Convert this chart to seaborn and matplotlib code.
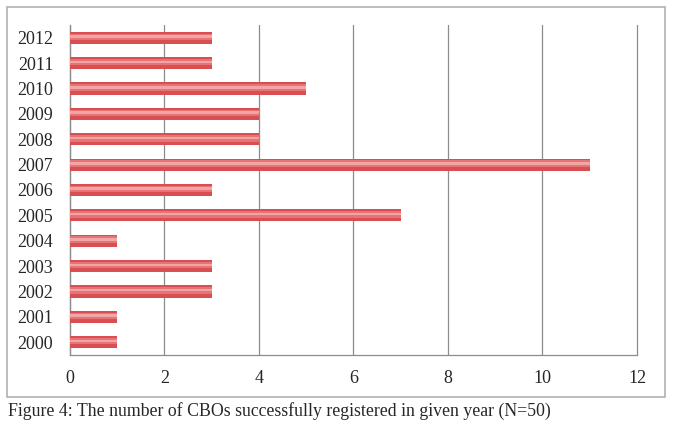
import matplotlib
matplotlib.use("Agg")
import matplotlib.pyplot as plt
import seaborn as sns
import pandas as pd
import numpy as np
from matplotlib.patches import Rectangle

years = ["2012", "2011", "2010", "2009", "2008", "2007", "2006",
         "2005", "2004", "2003", "2002", "2001", "2000"]
counts = [3, 3, 5, 4, 4, 11, 3, 7, 1, 3, 3, 1, 1]
x_ticks = [0, 2, 4, 6, 8, 10, 12]
caption = "Figure 4: The number of CBOs successfully registered in given year (N=50)"

df = pd.DataFrame({"year": years, "count": counts})

sns.set_style("white")
plt.rcParams["font.family"] = ["Liberation Serif", "DejaVu Serif"]

fig = plt.figure(figsize=(6.73, 4.26), dpi=100)
ax = fig.add_axes([0.104, 0.167, 0.8425, 0.774])

# outer frame of the chart
fig.patches.append(Rectangle((0.010, 0.068), 0.978, 0.915, transform=fig.transFigure,
                             fill=False, edgecolor="#b0b0b0", linewidth=1.2))

# base bar + two lighter stripes for the shaded look
sns.barplot(data=df, x="count", y="year", orient="h", color="#d94f51",
            saturation=1, width=0.48, ax=ax, zorder=3, linewidth=0)
sns.barplot(data=df, x="count", y="year", orient="h", color="#e67476",
            saturation=1, width=0.26, ax=ax, zorder=4, linewidth=0)
sns.barplot(data=df, x="count", y="year", orient="h", color="#f2a5a5",
            saturation=1, width=0.10, ax=ax, zorder=5, linewidth=0)
n = len(years)
for p in ax.patches[n:2 * n]:
    p.set_y(p.get_y() - 0.04)
for p in ax.patches[2 * n:]:
    p.set_y(p.get_y() - 0.05)

ax.set_xlim(0, 12)
ax.set_ylim(len(years) - 0.5, -0.5)
ax.set_xticks(x_ticks)
ax.set_xticklabels([str(t) for t in x_ticks], fontsize=13)
ax.set_yticks(np.arange(len(years)))
ax.set_yticklabels(years, fontsize=13)
ax.set_xlabel("")
ax.set_ylabel("")

ax.grid(axis="x", color="#8c8c8c", linewidth=0.9, zorder=0)
for gl in ax.get_xgridlines():
    gl.set_clip_on(False)
ax.set_axisbelow(True)
for s in ["top", "right"]:
    ax.spines[s].set_visible(False)
for s in ["left", "bottom"]:
    ax.spines[s].set_color("#8c8c8c")
    ax.spines[s].set_linewidth(0.9)

# category tick marks sit between the bars
ax.set_yticks(np.arange(len(years) + 1) - 0.5, minor=True)
ax.tick_params(axis="y", which="major", length=0, pad=12)
ax.tick_params(axis="y", which="minor", length=5, color="#8c8c8c", direction="out")
ax.tick_params(axis="x", length=5, color="#8c8c8c", direction="out", pad=6)

fig.text(0.012, 0.035, caption, fontsize=12.8, ha="left", va="center")

fig.savefig("out.png", dpi=100)
